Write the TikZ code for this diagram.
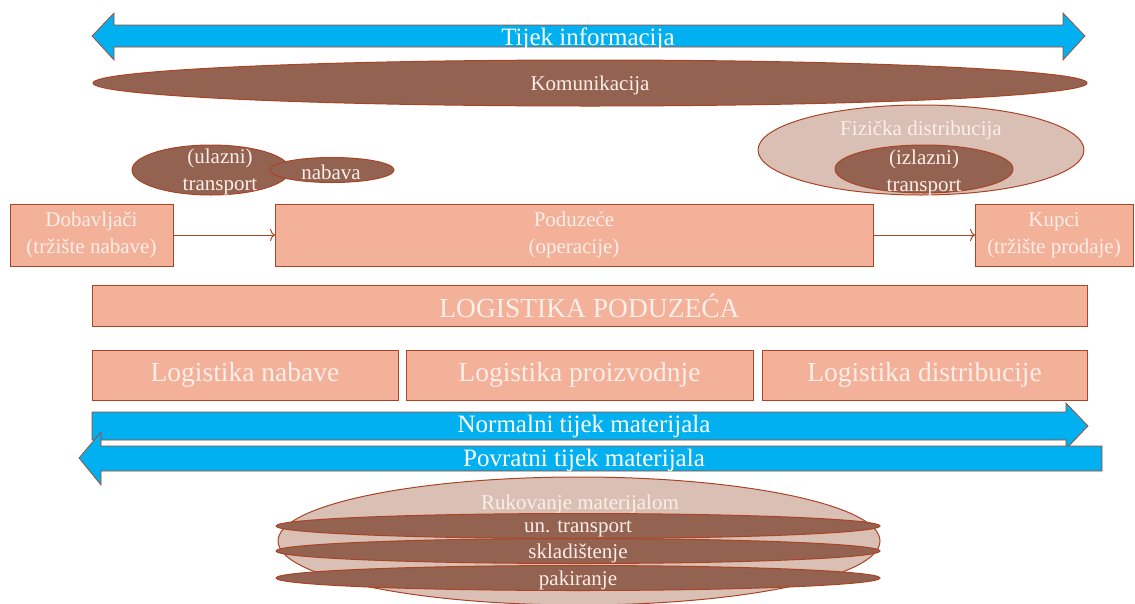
\documentclass[tikz,border=0pt]{standalone}
\usepackage{fontspec}
\setmainfont{Liberation Serif}
\usetikzlibrary{arrows.meta}

\definecolor{rim}{RGB}{170,68,36}
\definecolor{salmon}{RGB}{243,177,153}
\definecolor{darkoval}{RGB}{148,98,81}
\definecolor{lightoval}{RGB}{218,191,180}
\definecolor{flowblue}{RGB}{0,176,240}
\definecolor{paletext}{RGB}{252,238,232}

\newcommand\txtsmall{\fontsize{21}{27}\selectfont}
\newcommand\txtarrow{\fontsize{25}{27}\selectfont}
\newcommand\txtlarge{\fontsize{27.5}{30}\selectfont}

\begin{document}
\begin{tikzpicture}[x=1pt,y=-1pt,
		box/.style={draw=rim, fill=salmon, line width=1pt, outer sep=0pt, inner sep=0pt,
			text=paletext, align=center, font=\txtsmall},
		oval/.style={draw=rim, line width=1pt},
		label/.style={text=paletext, align=center, font=\txtsmall, inner sep=0pt, yshift=-2.5pt},
		flow/.style={draw=rim, fill=flowblue, line width=0.7pt}]
		
		\useasboundingbox (0,0) rectangle (1135,603);
		
		% Information flow
		\filldraw[flow] (92,36) -- (114,13) -- (114,25) -- (1063,25) -- (1063,13) -- (1085,36)
		-- (1063,60) -- (1063,47) -- (114,47) -- (114,60) -- cycle;
		\node[text=white, font=\txtarrow] (info) at (588,39) {Tijek informacija};
		
		% Physical distribution (under communication)
		\filldraw[oval, fill=lightoval] (921,150) ellipse [x radius=163, y radius=45];
		\filldraw[oval, fill=darkoval] (924,169) ellipse [x radius=89, y radius=24];
		\node[label] (fiz) at (921,128) {Fizička distribucija};
		\node[label] (izl) at (924,170) {(izlazni)\\transport};
		
		% Communication
		\filldraw[oval, fill=darkoval] (590,83) ellipse [x radius=497, y radius=23];
		\node[label] (kom) at (590,83) {Komunikacija};
		
		% Inbound transport and purchasing
		\filldraw[oval, fill=darkoval] (211,170) ellipse [x radius=79, y radius=25];
		\node[label] (ulz) at (220,169) {(ulazni)\\transport};
		\filldraw[oval, fill=darkoval] (332,170) ellipse [x radius=62, y radius=12.5];
		\node[label] (nab) at (331,170) {nabava};
		
		% Chain
		\node[box, minimum width=163, minimum height=62] (dob) at (91.5,235) {Dobavljači\\(tržište nabave)};
		\node[box, minimum width=598, minimum height=62] (pod) at (574,235) {Poduzeće\\(operacije)};
		\node[box, minimum width=158, minimum height=62] (kup) at (1054,235) {Kupci\\(tržište prodaje)};
		\draw[rim, line width=1pt, -{To[length=5pt,width=12pt]}] (dob) -- (pod);
		\draw[rim, line width=1pt, -{To[length=5pt,width=12pt]}] (pod) -- (kup);
		
		% Logistics
		\node[box, font=\txtlarge, minimum width=995, minimum height=41] (lp) at (589.5,305.5) {LOGISTIKA PODUZEĆA};
		\foreach \cx/\w/\nm/\txt in {245/306/nab/Logistika nabave,
			579.5/347/pro/Logistika proizvodnje,
			924.5/325/dis/Logistika distribucije} {
			\node[box, font=\txtlarge, minimum width=\w, minimum height=50] (l-\nm) at (\cx,375) {\txt};
		}
		
		% Material flows
		\filldraw[flow] (92,412) -- (1066,412) -- (1066,403) -- (1088,426) -- (1066,449)
		-- (1066,440) -- (92,440) -- cycle;
		\node[text=white, font=\txtarrow] (norm) at (584,426) {Normalni tijek materijala};
		\filldraw[flow] (79,458) -- (101,432) -- (101,446) -- (1102,446) -- (1102,471)
		-- (101,471) -- (101,485) -- cycle;
		\node[text=white, font=\txtarrow] (povr) at (584,460) {Povratni tijek materijala};
		
		% Material handling
		\filldraw[oval, fill=lightoval] (579,541) ellipse [x radius=301, y radius=64];
		\node[label] (ruk) at (580,502) {Rukovanje materijalom};
		\foreach \cy/\nm/\txt in {526/tr/un. transport, 551/sk/skladištenje, 578/pk/pakiranje} {
			\filldraw[oval, fill=darkoval] (578,\cy) ellipse [x radius=302, y radius=12.5];
			\node[label] (r-\nm) at (578,\cy) {\txt};
		}
		
	\end{tikzpicture}
\end{document}
